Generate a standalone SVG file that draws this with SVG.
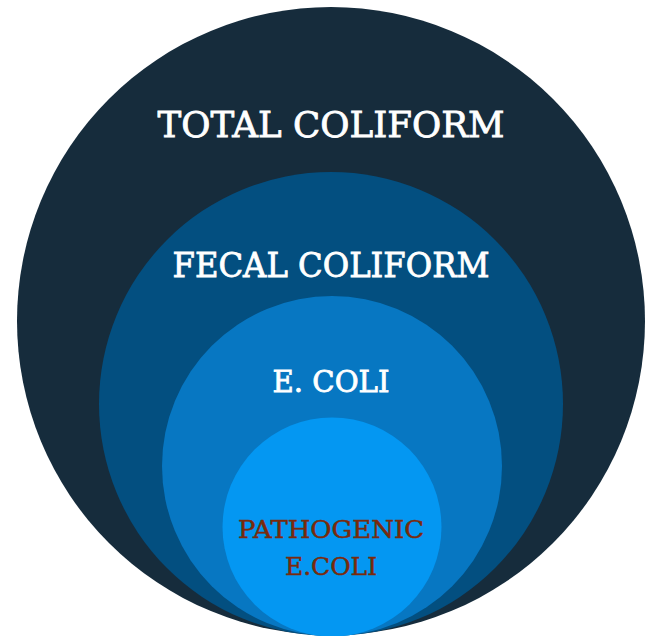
<svg xmlns="http://www.w3.org/2000/svg" width="647" height="636" viewBox="0 0 647 636">
<style>
.lbl{font-family:"DejaVu Serif","Liberation Serif",serif;text-anchor:middle;stroke-width:0.8}
.w{fill:#ffffff;stroke:#ffffff}
.p{fill:#7a2a0c;stroke:#7a2a0c;stroke-width:0.5}
</style>
<rect width="647" height="636" fill="#ffffff"/>
<g id="total-coliform">
<circle cx="331" cy="321" r="314" fill="#162c3c"/>
<text class="lbl w" x="331" y="137" font-size="36" textLength="347" lengthAdjust="spacingAndGlyphs">TOTAL COLIFORM</text>
</g>
<g id="fecal-coliform">
<circle cx="331" cy="404" r="232" fill="#034f80"/>
<text class="lbl w" x="331" y="277" font-size="33" textLength="317" lengthAdjust="spacingAndGlyphs">FECAL COLIFORM</text>
</g>
<g id="e-coli">
<circle cx="332" cy="466" r="170" fill="#0777c2"/>
<text class="lbl w" x="331" y="392" font-size="29" textLength="117" lengthAdjust="spacingAndGlyphs">E. COLI</text>
</g>
<g id="pathogenic-e-coli">
<circle cx="332" cy="527" r="109.5" fill="#0497f2"/>
<text class="lbl p" x="331" y="538" font-size="25" textLength="186" lengthAdjust="spacingAndGlyphs">PATHOGENIC</text>
<text class="lbl p" x="331" y="575" font-size="25" textLength="92" lengthAdjust="spacingAndGlyphs">E.COLI</text>
</g>
<g id="connectors"></g>
</svg>
